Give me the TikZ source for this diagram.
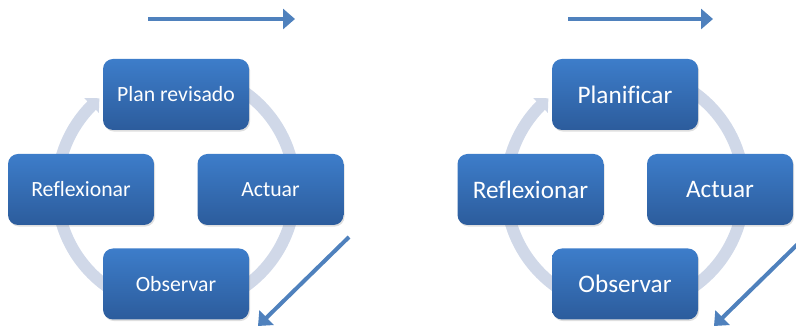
\documentclass[tikz,border=0pt]{standalone}
\usepackage{fontspec}
\setmainfont{Carlito}[Ligatures=CommonOff]
\usetikzlibrary{arrows.meta}
\usetikzlibrary{shadows}
\usetikzlibrary{calc,positioning,bending}

\definecolor{flecha}{RGB}{79,129,189}
\definecolor{anillo}{RGB}{208,216,232}
\definecolor{cajaarriba}{RGB}{61,125,202}
\definecolor{cajaabajo}{RGB}{44,92,156}

\tikzset{
  caja/.style={rounded corners=7.5pt, top color=cajaarriba, bottom color=cajaabajo,
    text=white, minimum width=109.5pt, minimum height=53.25pt, inner sep=0pt,
    drop shadow={opacity=0.25, shadow xshift=0.8pt, shadow yshift=-1.2pt}},
  anillo/.style={draw=anillo, line width=9pt, -{Triangle[width=15pt,length=8pt,bend]}},
  flechaazul/.style={draw=flecha, line width=3pt, -{Triangle[width=15pt,length=9pt]}},
  chico/.style={font=\fontsize{16.3}{19}\selectfont},
  grande/.style={font=\fontsize{18.9}{22}\selectfont}
}

\begin{document}
\begin{tikzpicture}[x=0.75pt,y=0.75pt]
    \useasboundingbox (0,0) rectangle (796,331);
    \clip (0,0) rectangle (796,331);

    % ciclo de la izquierda
    \coordinate (c1) at (176,141.5);
    \draw[anillo] ($(c1)+(60:119)$) arc[start angle=60, end angle=-230, radius=119];

    \node[caja,chico] (plan1) at ($(c1)+(0,95)$) {Plan revisado};
    \node[caja,chico] (refl1) at ($(c1)+(-95,0)$) {Reflexionar};
    \node[caja,chico] (act1) at ($(c1)+(94.5,0)$) {Actuar};
    \node[caja,chico] (obs1) at ($(c1)+(0,-94.5)$) {Observar};

    \coordinate (ha1) at (148,312);
    \coordinate (hb1) at (295,312);
    \draw[flechaazul] (ha1) -- (hb1);
    \coordinate (da1) at (349,94);
    \coordinate (db1) at (258,5);
    \draw[flechaazul] (da1) -- (db1);

    % ciclo de la derecha
    \coordinate (c2) at (625,141.5);
    \draw[anillo] ($(c2)+(60:119)$) arc[start angle=60, end angle=-230, radius=119];

    \node[caja,grande] (plan2) at ($(c2)+(0,95)$) {Planificar};
    \node[caja,grande] (refl2) at ($(c2)+(-94.5,0)$) {Reflexionar};
    \node[caja,grande] (act2) at ($(c2)+(95,0)$) {Actuar};
    \node[caja,grande] (obs2) at ($(c2)+(0,-94.5)$) {Observar};

    \coordinate (ha2) at (568,312);
    \coordinate (hb2) at (713,312);
    \draw[flechaazul] (ha2) -- (hb2);
    \coordinate (da2) at (805,94);
    \coordinate (db2) at (714,5);
    \draw[flechaazul] (da2) -- (db2);
\end{tikzpicture}
\end{document}
